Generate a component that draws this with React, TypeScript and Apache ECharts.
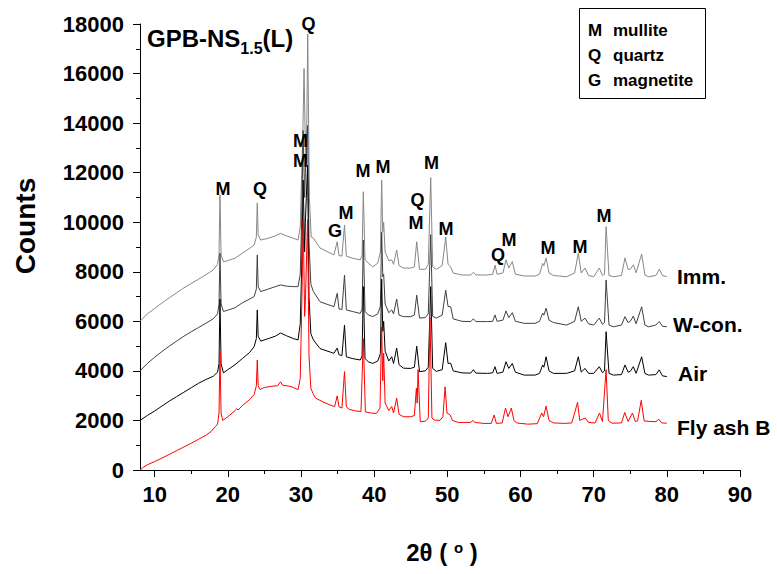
import React, { useEffect, useRef } from "react";
import * as echarts from "echarts";

const FONT = "'Liberation Sans', Arial, sans-serif";

// x-axis ticks (2θ, degrees)
const xTickValues = [10, 20, 30, 40, 50, 60, 70, 80, 90];
const xMinorTickValues = [15, 25, 35, 45, 55, 65, 75, 85];

const seriesNames = ["Imm.", "W-con.", "Air", "Fly ash B"];
const seriesColors = ["#878787", "#404040", "#000000", "#ff0000"];

// [2θ, counts]
const immData: [number, number][] = [
  [8, 6000], [9, 6300], [10, 6520], [11, 6740], [12, 6950], [13, 7150], [14, 7350], [15, 7530], [16, 7700], [17, 7880], [18, 8070],
  [18.6, 8300], [18.8, 8700], [18.93, 11100], [19.08, 8700], [19.4, 8400], [20, 8450], [21, 8550], [22, 8750], [23, 8950], [23.6, 9080],
  [23.9, 9400], [24.03, 10780], [24.15, 9500], [24.5, 9280], [25.5, 9350], [26.5, 9450], [27.2, 9550], [28, 9450], [29, 9350], [29.6, 9280],
  [29.9, 9800], [30.1, 12000], [30.25, 13500], [30.42, 16200], [30.6, 13000], [30.75, 12500], [30.92, 17600], [31.15, 11000], [31.4, 9400],
  [31.7, 9360], [32.6, 8960], [34.5, 8680], [34.95, 9210], [35.2, 8650], [35.6, 8640], [35.95, 9890], [36.2, 8630], [37, 8550], [38.1, 8480],
  [38.35, 8650], [38.52, 11230], [38.75, 8500], [39.2, 8350], [39.8, 8200], [40.5, 8350], [40.85, 8800], [41.03, 11700], [41.18, 9600],
  [41.3, 10000], [41.5, 8800], [42, 8450], [42.4, 8480], [42.65, 8300], [43.08, 8880], [43.4, 8250], [44, 8150], [45, 8150], [45.5, 8200],
  [45.82, 9210], [46.2, 8100], [47, 8100], [47.4, 8300], [47.73, 11800], [48, 8200], [48.5, 8100], [49.3, 8250], [49.78, 9400], [50.1, 8300],
  [50.46, 8200], [50.8, 7950], [52, 7870], [53.2, 7870], [53.56, 7980], [53.9, 7870], [55.5, 7870], [56.2, 7900], [56.52, 8270], [56.8, 7900],
  [57.6, 7950], [58.02, 8480], [58.4, 8150], [58.88, 8410], [59.3, 7900], [60.5, 7830], [62, 7830], [62.6, 7900], [63.03, 8340], [63.2, 8250],
  [63.5, 8560], [63.9, 7950], [64.5, 7850], [66.3, 7800], [67.4, 7950], [67.9, 8750], [68.3, 7950], [68.82, 8150], [69.3, 7850], [70, 7800],
  [70.77, 8150], [71.2, 7850], [71.48, 7900], [71.7, 9820], [72.1, 7850], [72.7, 7800], [73.8, 7850], [74.28, 8560], [74.7, 8100], [75, 8100],
  [75.42, 8280], [75.8, 7960], [76.56, 8720], [77, 7870], [77.5, 7800], [78.5, 7850], [78.97, 8100], [79.4, 7850], [80, 7800],
];

const wconData: [number, number][] = [
  [8, 4000], [9, 4300], [10, 4550], [11, 4780], [12, 5000], [13, 5200], [14, 5400], [15, 5580], [16, 5750], [17, 5920], [18, 6100],
  [18.6, 6300], [18.8, 6700], [18.93, 8750], [19.08, 6700], [19.4, 6400], [20, 6450], [21, 6550], [22, 6750], [23, 6900], [23.6, 7000],
  [23.9, 7300], [24.03, 8680], [24.15, 7400], [24.5, 7200], [25.5, 7300], [26.5, 7400], [27.2, 7470], [28, 7420], [29, 7400], [29.6, 7400],
  [29.9, 7900], [30.1, 10200], [30.3, 13700], [30.5, 11000], [30.6, 12000], [30.9, 13900], [31.1, 9200], [31.35, 7500],
  [31.7, 7200], [32.6, 6790], [34.5, 6590], [34.95, 7130], [35.2, 6500], [35.6, 6480], [35.95, 7870], [36.2, 6460], [37, 6400], [38.1, 6320],
  [38.35, 6500], [38.52, 9280], [38.75, 6400], [39.2, 6260], [39.8, 6190], [40.5, 6300], [40.85, 6600], [41.03, 9600], [41.18, 7800],
  [41.3, 7900], [41.5, 6700], [42, 6350], [42.4, 6460], [42.65, 6300], [43.08, 6900], [43.4, 6250], [44, 6190], [45, 6190], [45.5, 6250],
  [45.82, 7060], [46.2, 6130], [47, 6150], [47.4, 6300], [47.73, 9500], [48, 6200], [48.5, 6130], [49.3, 6250], [49.78, 7260], [50.1, 6600],
  [50.46, 6590], [50.8, 6100], [52, 6000], [53.2, 5990], [53.56, 6100], [53.9, 5990], [55.5, 5990], [56.2, 6000], [56.52, 6260], [56.8, 6000],
  [57.6, 6050], [58.02, 6420], [58.4, 6150], [58.88, 6350], [59.3, 6000], [60.5, 5920], [62, 5920], [62.6, 6000], [63.03, 6330], [63.2, 6250],
  [63.5, 6530], [63.9, 6050], [64.5, 5950], [66.3, 5850], [67.4, 6000], [67.9, 6590], [68.3, 6000], [68.82, 6130], [69.3, 5900], [70, 5850],
  [70.77, 6130], [71.2, 5880], [71.48, 5950], [71.7, 7670], [72.1, 5850], [72.7, 5780], [73.8, 5850], [74.28, 6190], [74.7, 5950], [75, 6000],
  [75.42, 6210], [75.8, 5900], [76.56, 6590], [77, 5850], [77.5, 5780], [78.5, 5850], [78.97, 5990], [79.4, 5800], [80, 5780],
];

const airData: [number, number][] = [
  [8, 2000], [9, 2200], [10, 2380], [11, 2580], [12, 2780], [13, 2960], [14, 3140], [15, 3320], [16, 3500], [17, 3650], [18, 3780],
  [18.6, 3950], [18.8, 4300], [18.93, 6900], [19.08, 4300], [19.4, 3920], [20, 4050], [21, 4250], [22, 4500], [23, 4750], [23.6, 4980],
  [23.9, 5300], [24.03, 6460], [24.15, 5400], [24.5, 5200], [25.5, 5300], [26.5, 5400], [27.2, 5530], [28, 5420], [29, 5300], [29.6, 5250],
  [29.9, 5900], [30.1, 8200], [30.3, 11700], [30.5, 8800], [30.6, 10000], [30.9, 12300], [31.1, 7000], [31.35, 5500],
  [31.7, 5250], [32.6, 4900], [34.5, 4710], [34.95, 4920], [35.2, 4650], [35.6, 4620], [35.95, 5850], [36.2, 4570], [37, 4500], [38.1, 4440],
  [38.35, 4600], [38.52, 7400], [38.75, 4500], [39.2, 4370], [39.8, 4300], [40.5, 4400], [40.85, 4700], [41.03, 7700], [41.18, 5600],
  [41.3, 6000], [41.5, 4800], [42, 4400], [42.4, 4570], [42.65, 4300], [43.08, 4920], [43.4, 4250], [44, 4110], [45, 4100], [45.5, 4150],
  [45.82, 5000], [46.2, 3970], [47, 4000], [47.4, 4150], [47.73, 7400], [48, 4100], [48.5, 3980], [49.3, 4050], [49.78, 5140], [50.1, 4300],
  [50.46, 4310], [50.8, 4000], [52, 3920], [53.2, 3910], [53.56, 4050], [53.9, 3910], [55.5, 3900], [56.2, 3920], [56.52, 4170], [56.8, 3900],
  [57.6, 3950], [58.02, 4370], [58.4, 4100], [58.88, 4300], [59.3, 3950], [60.5, 3830], [62, 3830], [62.6, 3900], [63.03, 4240], [63.2, 4150],
  [63.5, 4570], [63.9, 4000], [64.5, 3900], [66.3, 3900], [67.4, 4000], [67.9, 4570], [68.3, 3950], [68.82, 4100], [69.3, 3900], [70, 3900],
  [70.77, 4170], [71.2, 3930], [71.48, 4000], [71.7, 5580], [72.1, 3900], [72.7, 3830], [73.8, 3850], [74.28, 4240], [74.7, 3950], [75, 3980],
  [75.42, 4170], [75.8, 3900], [76.56, 4570], [77, 3900], [77.5, 3830], [78.5, 3850], [78.97, 4040], [79.4, 3800], [80, 3770],
];

const flyAshData: [number, number][] = [
  [8, 0], [8.5, 120], [9, 210], [10, 340], [11, 480], [12, 630], [13, 780], [14, 930], [15, 1080], [16, 1240], [17, 1400], [17.7, 1550],
  [18.3, 1750], [18.6, 1850], [18.8, 2300], [18.93, 4770], [19.08, 2300], [19.3, 2000], [20, 2150], [21, 2400], [21.2, 2480], [21.4, 2420],
  [22, 2600], [23, 2850], [23.6, 3050], [23.9, 3400], [24.03, 4440], [24.15, 3400], [24.4, 3250], [25, 3330], [26, 3380], [26.8, 3400],
  [27.2, 3560], [27.5, 3420], [28.5, 3380], [29.2, 3300], [29.6, 3240], [29.9, 3700], [30.1, 6500], [30.3, 10100], [30.5, 6200], [30.6, 6800],
  [30.9, 10100], [31.1, 4600], [31.35, 3300], [31.7, 3050], [32, 2900], [33, 2750], [34, 2620], [34.6, 2560], [34.95, 2990], [35.2, 2550],
  [35.6, 2500], [35.95, 3970], [36.2, 2550], [36.6, 2450], [37.5, 2380], [38.2, 2360], [38.52, 5300], [38.8, 2350], [39.5, 2300], [40.3, 2280],
  [40.8, 2500], [41.03, 5780], [41.18, 3600], [41.3, 4720], [41.5, 2700], [42, 2400], [42.4, 2560], [42.65, 2300], [43.08, 2900], [43.4, 2250],
  [44, 2150], [45, 2150], [45.5, 2200], [45.77, 3300], [45.88, 2700], [46, 4050], [46.3, 1950], [47, 1970], [47.4, 2100], [47.63, 6150],
  [47.9, 2100], [48.2, 2020], [49, 2000], [49.4, 2150], [49.7, 3360], [49.95, 2300], [50.4, 2220], [50.7, 2000], [51.5, 1920], [53.2, 1920],
  [53.5, 2000], [53.8, 1920], [55, 1880], [56, 1880], [56.4, 2220], [56.7, 1880], [57.5, 1900], [57.95, 2500], [58.3, 2150], [58.75, 2500],
  [59.1, 2000], [59.5, 1900], [61, 1850], [62.3, 1870], [62.9, 2300], [63.15, 2150], [63.5, 2580], [63.9, 2000], [64.5, 1900], [66, 1880],
  [67, 1900], [67.4, 2300], [67.8, 2730], [68.1, 2000], [68.85, 2100], [69.3, 1920], [70.2, 1900], [70.8, 2300], [71.2, 1950], [71.7, 4050],
  [72, 2000], [72.5, 1890], [73.8, 1900], [74.25, 2320], [74.7, 1960], [75.3, 2300], [75.7, 1960], [76, 1980], [76.5, 2810], [76.9, 1980],
  [77.6, 1960], [78.5, 1950], [78.9, 2050], [79.3, 1900], [80, 1890],
];

// phase labels above peaks: [2θ, counts, phase letter]
const peakLabels: [number, number, string][] = [
  [31.03, 18020, "Q"], [29.94, 13280, "M"], [29.94, 12480, "M"], [19.34, 11360, "M"], [24.4, 11340, "Q"],
  [34.65, 9650, "G"], [36.15, 10370, "M"], [38.48, 12070, "M"], [41.21, 12210, "M"], [45.93, 10880, "Q"],
  [45.72, 9950, "M"], [47.84, 12370, "M"], [49.82, 9730, "M"], [56.93, 8680, "Q"], [58.43, 9280, "M"],
  [63.76, 8960, "M"], [68.13, 9000, "M"], [71.41, 10250, "M"],
];

const keyLetters = ["M", "Q", "G"];
const keyNames = ["mullite", "quartz", "magnetite"];

const seriesData = [immData, wconData, airData, flyAshData];

export default function App() {
  const ref = useRef<HTMLDivElement>(null);
  useEffect(() => {
    if (!ref.current) return;
    const chart = echarts.init(ref.current, null, { renderer: "svg" });
    const lineSeries = seriesNames.map((name, i) => ({
      name,
      type: "line",
      data: seriesData[i],
      showSymbol: false,
      symbol: "none",
      lineStyle: { color: seriesColors[i], width: 1 },
      itemStyle: { color: seriesColors[i] },
      z: 2 + i,
      silent: true,
    }));
    const labelSeries = {
      type: "scatter",
      data: peakLabels.map(([x, y, t]) => ({ value: [x, y], label: { formatter: t } })),
      symbolSize: 1,
      itemStyle: { color: "rgba(255,255,255,0)" },
      clip: false,
      silent: true,
      z: 10,
      label: {
        show: true,
        position: "inside",
        fontFamily: FONT,
        fontWeight: "bold",
        fontSize: 18,
        lineHeight: 15,
        color: "#000",
        opacity: 1,
        textBorderWidth: 0,
      },
    };
    const legendGraphics: any[] = [
      {
        type: "rect",
        shape: { x: 579.5, y: 8.5, width: 126, height: 90 },
        style: { fill: "#fff", stroke: "#000", lineWidth: 1 },
        z: 20,
      },
    ];
    keyLetters.forEach((l, i) => {
      legendGraphics.push({
        type: "text",
        x: 588,
        y: 30 + i * 25,
        z: 21,
        style: { text: l, fontFamily: FONT, fontWeight: "bold", fontSize: 17, fill: "#000", verticalAlign: "middle", align: "left" },
      });
      legendGraphics.push({
        type: "text",
        x: 613,
        y: 30 + i * 25,
        z: 21,
        style: { text: keyNames[i], fontFamily: FONT, fontWeight: "bold", fontSize: 17, fill: "#000", verticalAlign: "middle", align: "left" },
      });
    });
    const seriesLabelPos = [
      [677, 276], [673, 324], [678, 373], [677, 427],
    ];
    const seriesLabelGraphics = seriesNames.map((n, i) => ({
      type: "text",
      x: seriesLabelPos[i][0],
      y: seriesLabelPos[i][1],
      style: { text: n, fontFamily: FONT, fontWeight: "bold", fontSize: 21, fill: "#000", verticalAlign: "middle", align: "left" },
    }));

    chart.setOption({
      animation: false,
      backgroundColor: "#fff",
      grid: { left: 140, right: 37, top: 24, bottom: 104, containLabel: false },
      xAxis: [
        {
          type: "value",
          min: 8,
          max: 90,
          axisLine: { lineStyle: { color: "#000", width: 1 } },
          axisTick: { show: true, length: 7, customValues: xTickValues, lineStyle: { color: "#000" } },
          axisLabel: {
            customValues: xTickValues,
            fontFamily: FONT,
            fontWeight: "bold",
            fontSize: 22,
            color: "#000",
            margin: 13,
          },
          splitLine: { show: false },
        },
        {
          type: "value",
          min: 8,
          max: 90,
          position: "bottom",
          axisLine: { show: false },
          axisTick: { show: true, length: 4, customValues: xMinorTickValues, lineStyle: { color: "#000" } },
          axisLabel: { show: false },
          splitLine: { show: false },
        },
      ],
      yAxis: {
        type: "value",
        min: 0,
        max: 18000,
        interval: 2000,
        axisLine: { show: true, lineStyle: { color: "#000", width: 1 } },
        axisTick: { show: true, length: 7, lineStyle: { color: "#000" } },
        minorTick: { show: true, splitNumber: 2, length: 4, lineStyle: { color: "#000" } },
        axisLabel: {
          fontFamily: FONT,
          fontWeight: "bold",
          fontSize: 22,
          color: "#000",
          margin: 16,
          formatter: (v: number) => String(v),
        },
        splitLine: { show: false },
      },
      graphic: [
        {
          type: "text",
          x: 147,
          y: 20,
          z: 20,
          style: {
            text: "GPB-NS{s|1.5}(L)",
            fontFamily: FONT,
            fontWeight: "bold",
            fontSize: 24,
            fill: "#000",
            rich: {
              s: { fontFamily: FONT, fontWeight: "bold", fontSize: 16, verticalAlign: "bottom", lineHeight: 36, fill: "#000" },
            },
          },
        },
        {
          type: "text",
          x: 442,
          y: 552,
          style: {
            text: "2θ ( {p|o} )",
            fontFamily: FONT,
            fontWeight: "bold",
            fontSize: 24,
            fill: "#000",
            align: "center",
            verticalAlign: "middle",
            rich: {
              p: { fontFamily: FONT, fontWeight: "bold", fontSize: 15, verticalAlign: "top", fill: "#000" },
            },
          },
        },
        {
          type: "text",
          x: 25,
          y: 226,
          rotation: Math.PI / 2,
          style: {
            text: "Counts",
            fontFamily: FONT,
            fontWeight: "bold",
            fontSize: 28,
            fill: "#000",
            align: "center",
            verticalAlign: "middle",
          },
        },
        ...seriesLabelGraphics,
        ...legendGraphics,
      ],
      series: [...lineSeries, labelSeries],
    });
    return () => chart.dispose();
  }, []);
  return <div ref={ref} style={{ position: "fixed", left: 0, top: 0, width: 777, height: 574 }} />;
}
